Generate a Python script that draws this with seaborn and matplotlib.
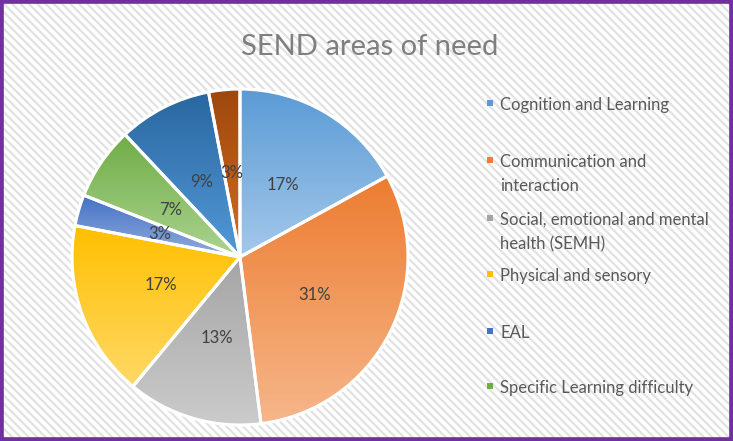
import seaborn as sns
import matplotlib.pyplot as plt
from matplotlib.colors import LinearSegmentedColormap
from matplotlib.patches import Rectangle
import numpy as np

sns.set_theme(style="white")
plt.rcParams['font.family'] = ['Lato', 'DejaVu Sans']
plt.rcParams['hatch.linewidth'] = 1.6

# slice shares (%), clockwise from 12 o'clock
shares = [17, 31, 13, 17, 3, 7, 9, 3]
# legend only shows the first six areas (the rest is cut off in the original)
legend_labels = ["Cognition and Learning",
                 "Communication and\ninteraction",
                 "Social, emotional and mental\nhealth (SEMH)",
                 "Physical and sensory",
                 "EAL",
                 "Specific Learning difficulty"]
top_colors = ["#5B9BD5", "#ED7D31", "#A5A5A5", "#FFC000",
              "#4472C4", "#70AD47", "#2A67A0", "#9E480E"]
bottom_colors = ["#A4C8EA", "#F6B68A", "#CBCBCB", "#FFD866",
                 "#92ACDD", "#AAD38F", "#5299D8", "#D46C22"]

fig = plt.figure(figsize=(7.33, 4.41), dpi=100)

# hatched background + purple frame
fig.patches.append(Rectangle((0, 0), 1, 1, transform=fig.transFigure,
                             facecolor="white", edgecolor="#E2E2E2",
                             hatch="\\\\\\\\", linewidth=0, zorder=-5))
fig.patches.append(Rectangle((0, 0), 1, 1, transform=fig.transFigure,
                             facecolor="none", edgecolor="#7030A0",
                             linewidth=5.5, zorder=10))

ax = fig.add_axes([0.0955, 0.0317, 0.4638, 0.771])
ax.patch.set_alpha(0)

wedges, texts, autotexts = ax.pie(
    shares, startangle=90, counterclock=False,
    autopct='%1.0f%%', pctdistance=0.5,
    colors=top_colors,
    wedgeprops=dict(edgecolor="white", linewidth=2.2, facecolor="none", zorder=2),
    textprops=dict(color="#404040", fontsize=12))

# top-to-bottom gradient fill per slice
for w, c0, c1 in zip(wedges, top_colors, bottom_colors):
    w.set_facecolor("none")
    bb = w.get_path().get_extents()
    cmap = LinearSegmentedColormap.from_list("g", [c1, c0])
    grad = np.linspace(1, 0, 64).reshape(-1, 1)
    im = ax.imshow(grad, cmap=cmap, extent=[bb.x0, bb.x1, bb.y0, bb.y1],
                   aspect="auto", zorder=1, vmin=0, vmax=1)
    im.set_clip_path(w)

for t in autotexts:
    t.set_zorder(4)

ax.set_xlim(-1.012, 1.012)
ax.set_ylim(-1.012, 1.012)
ax.set_aspect("equal")
ax.axis("off")

fig.text(0.505, 0.893, "SEND areas of need", ha="center", va="center",
         fontsize=21, color="#7F7F7F")

# legend, first lines evenly spaced like the original
y_first = [103, 160, 218, 274, 331, 386]
for lab, col, yp in zip(legend_labels, top_colors, y_first):
    fig.patches.append(Rectangle((487 / 733, 1 - (yp + 3) / 441), 6 / 733, 6 / 441,
                                 transform=fig.transFigure, facecolor=col,
                                 edgecolor="none", zorder=5))
    fig.text(500 / 733, 1 - (yp - 6) / 441, lab, ha="left", va="top",
             fontsize=12, color="#595959", linespacing=1.65)

fig.savefig("out.png", dpi=100)
